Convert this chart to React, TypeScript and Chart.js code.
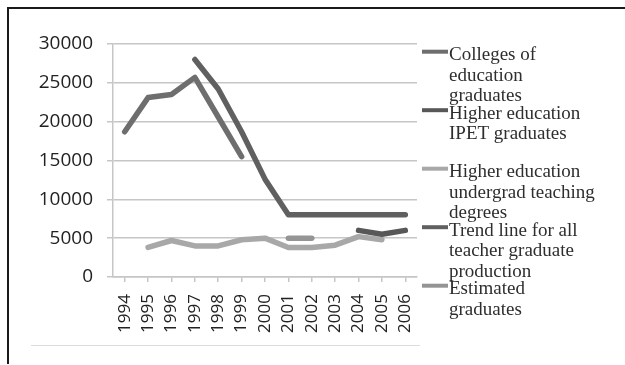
import React, { useEffect, useRef } from "react";
import { Chart, registerables } from "chart.js";

Chart.register(...registerables);

// Years on the category axis
const years = ["1994", "1995", "1996", "1997", "1998", "1999", "2000", "2001", "2002", "2003", "2004", "2005", "2006"];

// Graduate counts per year (null = no value that year)
const collegesGrads = [18700, 23100, 23500, 25700, 20600, 15500, null, null, null, null, null, null, null];
const ipetGrads = [null, null, null, null, null, null, null, null, null, null, 6000, 5500, 6000];
const undergradDegrees = [null, 3800, 4700, 4000, 4000, 4800, 5000, 3800, 3800, 4100, 5200, 4800, null];
const trendLine = [null, null, null, 28000, 24200, 18700, 12600, 8000, 8000, 8000, 8000, 8000, 8000];
const estimatedGrads = [null, null, null, null, null, null, null, 5000, 5000, null, null, null, null];

// Series names, wrapped the way the legend prints them
const seriesNames = [
  ["Colleges of", "education", "graduates"],
  ["Higher education", "IPET graduates"],
  ["Higher education", "undergrad teaching", "degrees"],
  ["Trend line for all", "teacher graduate", "production"],
  ["Estimated", "graduates"],
];
const seriesColors = ["#6e6e6e", "#585858", "#a8a8a8", "#606060", "#949494"];
const seriesValues = [collegesGrads, ipetGrads, undergradDegrees, trendLine, estimatedGrads];

// Y axis ticks
const yMin = 0;
const yMax = 30000;
const yStep = 5000;

const GRID = "#c6c6c6";

const sideLegend = {
  id: "sideLegend",
  afterDraw(chart: any) {
    const { ctx, chartArea } = chart;
    const x0 = chartArea.right + 5;
    const x1 = chartArea.right + 31;
    const textX = chartArea.right + 32;
    const lineH = 20.7;
    ctx.save();
    chart.data.datasets.forEach((ds: any, i: number) => {
      const y = chartArea.top + 7.7 + i * 58.5;
      ctx.strokeStyle = ds.borderColor;
      ctx.lineWidth = 4;
      ctx.lineCap = "butt";
      ctx.beginPath();
      ctx.moveTo(x0, y);
      ctx.lineTo(x1, y);
      ctx.stroke();
      ctx.fillStyle = "#2e2e2e";
      ctx.font = '19px "Liberation Serif"';
      ctx.textAlign = "left";
      ctx.textBaseline = "alphabetic";
      (ds.legendLines as string[]).forEach((line, j) => {
        ctx.fillText(line, textX, y + 8.3 + j * lineH);
      });
    });
    ctx.restore();
  },
};

export default function App() {
  const canvasRef = useRef<HTMLCanvasElement>(null);

  useEffect(() => {
    const chart = new Chart(canvasRef.current!, {
      type: "line",
      data: {
        labels: years,
        datasets: seriesValues.map((values, i) => ({
          label: seriesNames[i].join(" "),
          legendLines: seriesNames[i],
          data: values,
          borderColor: seriesColors[i],
          backgroundColor: seriesColors[i],
          borderWidth: 5.5,
          borderCapStyle: "round",
          borderJoinStyle: "round",
          pointRadius: 0,
          tension: 0,
          spanGaps: false,
          fill: false,
        })) as any,
      },
      options: {
        responsive: false,
        devicePixelRatio: 1,
        animation: false,
        layout: { padding: { top: 44, right: 208, left: 0, bottom: 0 } },
        plugins: {
          legend: { display: false },
          tooltip: { enabled: false },
        },
        scales: {
          x: {
            offset: true,
            grid: { drawOnChartArea: false, tickLength: 5, color: GRID, lineWidth: 1.5 },
            border: { color: GRID, width: 1.5 },
            ticks: {
              autoSkip: false,
              minRotation: 90,
              maxRotation: 90,
              padding: 12,
              color: "#222",
              font: { family: '"Open Sans"', size: 17 },
            },
            afterFit: (s: any) => {
              s.height = 88;
            },
          },
          y: {
            min: yMin,
            max: yMax,
            grid: { tickLength: 6, color: GRID, lineWidth: 1.5 },
            border: { color: GRID, width: 1.5 },
            ticks: {
              stepSize: yStep,
              padding: 14,
              color: "#222",
              font: { family: '"Open Sans"', size: 19 },
              callback: (v: any) => String(v),
            },
            afterFit: (s: any) => {
              s.width = 113;
            },
          },
        },
      } as any,
      plugins: [sideLegend],
    });
    return () => chart.destroy();
  }, []);

  return (
    <div style={{ position: "fixed", left: 0, top: 0, width: 625, height: 365, background: "#fff", overflow: "hidden" }}>
      <canvas ref={canvasRef} width={625} height={365} style={{ position: "absolute", left: 0, top: 0 }} />
      <div style={{ position: "absolute", left: 7, top: 7, width: 618, height: 2, background: "#1a1a1a" }} />
      <div style={{ position: "absolute", left: 7, top: 7, width: 2, height: 357, background: "#1a1a1a" }} />
      <div style={{ position: "absolute", left: 31, top: 345, width: 389, height: 1, background: "#dcdcdc" }} />
    </div>
  );
}
